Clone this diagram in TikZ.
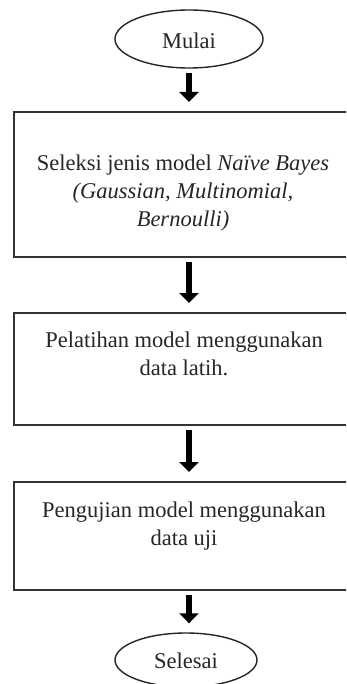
\documentclass[tikz,border=0pt]{standalone}
\usepackage{fontspec}
\setmainfont{Liberation Serif}
\usetikzlibrary{shapes.geometric,arrows.meta}
\tikzset{
  term/.style={ellipse, draw=black!85, line width=1.4pt, minimum width=148pt, minimum height=58pt, inner sep=0pt},
  procbox/.style={rectangle, draw=black!80, line width=2pt, minimum width=340pt, inner sep=0pt},
  txt/.style={font=\fontsize{22.5}{28}\selectfont, text=black!85, align=center, inner sep=0pt},
  flow/.style={line width=6.5pt, draw=black, -{Triangle[width=19pt,length=10pt]}, shorten <=4pt, shorten >=9pt}
}
\begin{document}
\begin{tikzpicture}[x=1pt,y=-1pt]
\useasboundingbox (0,0) rectangle (346,684);
\clip (0,0) rectangle (346,684);
\fill[white] (0,0) rectangle (346,684);
\node[term] (mulai) at (189,39) {};
\node[txt] (tmulai) at (189,41) {Mulai};
\node[procbox, minimum height=145pt] (b1) at (184,184.5) {};
\node[txt] (t1) at (183,193) {Seleksi jenis model \textit{Naïve Bayes}\\\textit{(Gaussian, Multinomial,}\\\textit{Bernoulli)}};
\node[procbox, minimum height=112pt] (b2) at (184,369) {};
\node[txt] (t2) at (184,354) {Pelatihan model menggunakan\\data latih.};
\node[procbox, minimum height=108pt] (b3) at (184,536) {};
\node[txt] (t3) at (184,526) {Pengujian model menggunakan\\data uji};
\node[term, minimum width=142pt, minimum height=54pt] (selesai) at (186,660) {};
\node[txt] (tselesai) at (186,661) {Selesai};
\draw[flow] (mulai.south -| 189,0) -- (b1.north -| 189,0);
\draw[flow] (b1.south -| 189,0) -- (b2.north -| 189,0);
\draw[flow] (b2.south -| 189,0) -- (b3.north -| 189,0);
\draw[flow] (b3.south -| 189,0) -- (selesai.north -| 189,0);
\end{tikzpicture}
\end{document}
